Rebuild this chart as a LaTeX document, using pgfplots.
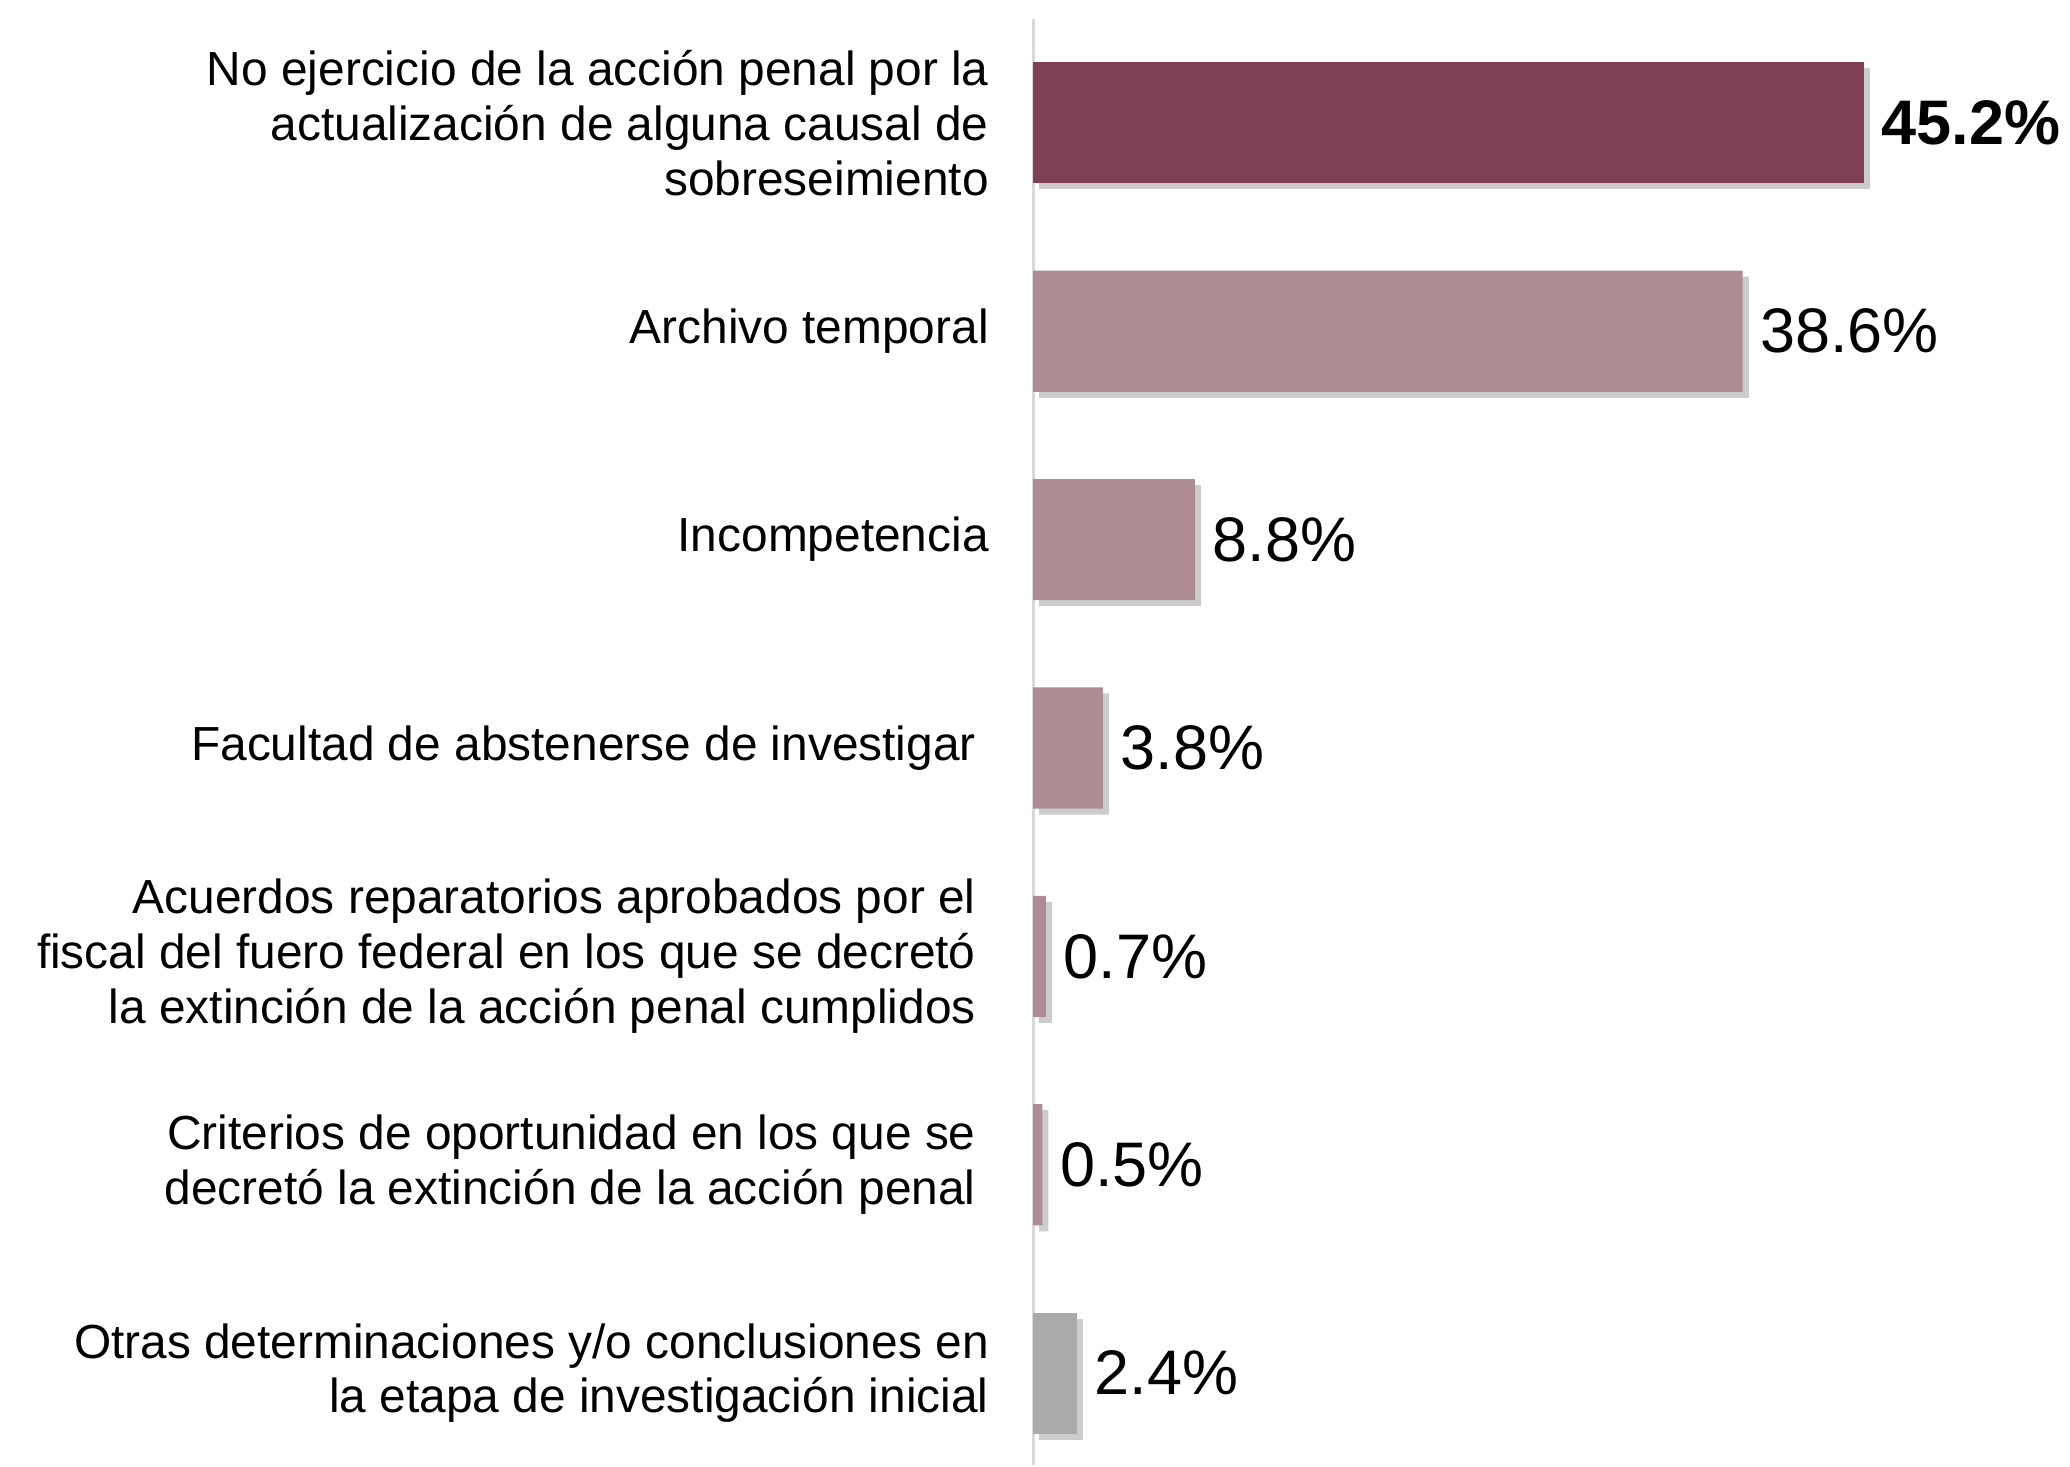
\documentclass[border=0pt]{standalone}
\usepackage{pgfplots}
\pgfplotsset{compat=1.18}
\usepackage{fontspec}
\setmainfont{Liberation Sans}
\usetikzlibrary{shadows}
\definecolor{barDark}{RGB}{127,64,83}
\definecolor{barLight}{RGB}{173,140,147}
\definecolor{barGray}{RGB}{170,170,170}
\definecolor{axisGray}{RGB}{217,217,217}
\newcommand\pad{\rule{0.13cm}{0pt}}

\begin{document}
\begin{tikzpicture}
\begin{axis}[
  scale only axis,
  width=10.36cm, height=14.453cm,
  xmin=0, xmax=56.4,
  ymin=-0.442, ymax=6.5,
  axis x line=none,
  axis y line*=left,
  y axis line style={draw=axisGray, line width=0.8pt},
  ytick={0,...,6},
  major tick length=0pt,
  yticklabels={
    {Otras determinaciones y/o conclusiones en\\la etapa de investigación inicial},
    {Criterios de oportunidad en los que se\pad\\decretó la extinción de la acción penal\pad},
    {Acuerdos reparatorios aprobados por el\pad\\fiscal del fuero federal en los que se decretó\pad\\la extinción de la acción penal cumplidos\pad},
    {Facultad de abstenerse de investigar\pad},
    {Incompetencia},
    {Archivo temporal},
    {No ejercicio de la acción penal por la\\actualización de alguna causal de\\sobreseimiento}},
  yticklabel style={align=right, anchor=east, inner sep=0pt, xshift=-0.436cm,
    font=\fontsize{13.6}{15.6}\selectfont},
  xbar, bar width=1.21cm, bar shift=0pt,
  nodes near coords={\pgfmathprintnumber[fixed,precision=1,fixed zerofill,assume math mode=true]{\pgfplotspointmeta}\%},
  nodes near coords style={anchor=west, inner sep=0pt, xshift=0.17cm,
    font=\fontsize{17.9}{20}\selectfont, text=black},
  clip=false,
]
\addplot[fill=barGray, draw=none,
  drop shadow={shadow xshift=0.06cm, shadow yshift=-0.06cm, opacity=0.4}]
  coordinates {(2.4,0)};
\addplot[fill=barLight, draw=none,
  drop shadow={shadow xshift=0.06cm, shadow yshift=-0.06cm, opacity=0.4}]
  coordinates {(0.5,1) (0.7,2) (3.8,3) (8.8,4) (38.6,5)};
\addplot[fill=barDark, draw=none,
  drop shadow={shadow xshift=0.06cm, shadow yshift=-0.06cm, opacity=0.4},
  nodes near coords style={font=\fontsize{17.9}{20}\selectfont\bfseries}]
  coordinates {(45.2,6)};
\end{axis}
\path ([yshift=0.187cm]current axis.north) (current axis.north east);
\path ([xshift=-0.37cm]current bounding box.west);
\end{tikzpicture}
\end{document}
